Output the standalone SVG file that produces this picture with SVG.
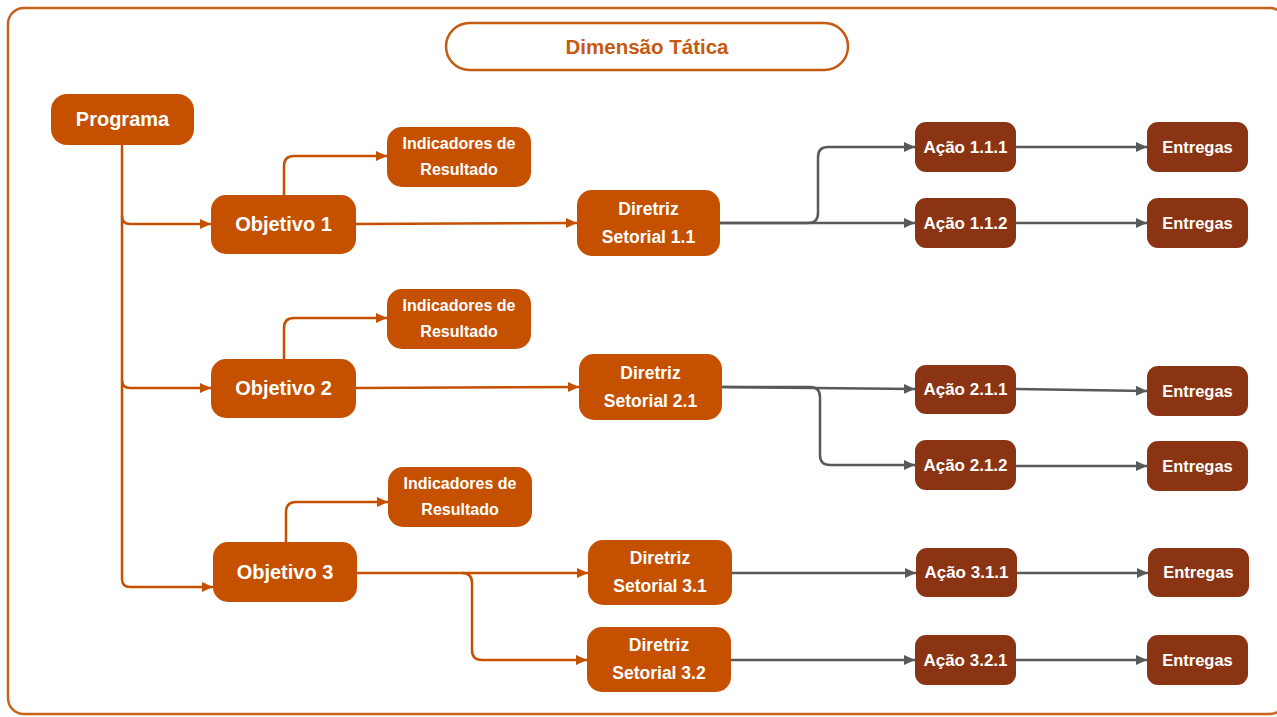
<svg xmlns="http://www.w3.org/2000/svg" width="1277" height="717" viewBox="0 0 1277 717">
<defs>
<style>
.o{fill:#C55000}
.d{fill:#8A3414}
.t{font-family:"Liberation Sans",Arial,sans-serif;font-weight:bold;fill:#fff;text-anchor:middle;dominant-baseline:central}
.co{fill:none;stroke:#C55000;stroke-width:2.5;marker-end:url(#ao)}
.cl{fill:none;stroke:#C55000;stroke-width:2.5}
.cg{fill:none;stroke:#595959;stroke-width:2.5;marker-end:url(#ag)}
</style>
<marker id="ao" markerUnits="userSpaceOnUse" markerWidth="12" markerHeight="11" refX="11" refY="5.5" orient="auto"><path d="M0,0.5 L11,5.5 L0,10.5 z" fill="#C55000"/></marker>
<marker id="ag" markerUnits="userSpaceOnUse" markerWidth="12" markerHeight="11" refX="11" refY="5.5" orient="auto"><path d="M0,0.5 L11,5.5 L0,10.5 z" fill="#595959"/></marker>
</defs>
<rect x="0" y="0" width="1277" height="717" fill="#fff"/>
<rect x="8" y="8" width="1278" height="706" rx="16" fill="none" stroke="#C8621C" stroke-width="2.5"/>
<g id="title">
<rect x="446" y="23" width="402" height="47" rx="23.5" fill="#fff" stroke="#C55A11" stroke-width="2.5"/>
<text x="647" y="46" style="font-family:'Liberation Sans',Arial,sans-serif;font-weight:bold;font-size:20.5px;fill:#C55A11;text-anchor:middle;dominant-baseline:central">Dimensão Tática</text>
</g>
<g id="connectors">
<path class="cl" d="M122,145 V579"/>
<path class="co" d="M122,216 Q122,224 130,224 H211"/>
<path class="co" d="M122,380 Q122,388 130,388 H211"/>
<path class="co" d="M122,579 Q122,587 130,587 H213"/>
<path class="co" d="M284,195 V166 Q284,156 294,156 H387"/>
<path class="co" d="M284,359 V328 Q284,318 294,318 H387"/>
<path class="co" d="M286,542 V512 Q286,502 296,502 H388"/>
<path class="co" d="M356,224 L577,223"/>
<path class="co" d="M356,388 L579,387"/>
<path class="co" d="M357,573 H588"/>
<path class="co" d="M462,573 Q472,573 472,583 V650 Q472,660 482,660 H587"/>
<path class="cg" d="M720,223 H808 Q818,223 818,213 V157 Q818,147 828,147 H915"/>
<path class="cg" d="M720,223 H915"/>
<path class="cg" d="M722,387 H810 Q820,387 820,397 V455 Q820,465 830,465 H915"/>
<path class="cg" d="M722,387 L915,389"/>
<path class="cg" d="M732,573 H916"/>
<path class="cg" d="M731,660 H915"/>
<path class="cg" d="M1016,147 H1147"/>
<path class="cg" d="M1016,223 H1147"/>
<path class="cg" d="M1016,389 L1147,391"/>
<path class="cg" d="M1016,466 H1147"/>
<path class="cg" d="M1017,573 H1148"/>
<path class="cg" d="M1016,660 H1147"/>
</g>
<g id="programa"><rect class="o" x="51" y="94" width="143" height="51" rx="16"/><text class="t" x="122.5" y="119" font-size="20">Programa</text></g>
<g id="objetivo1"><rect class="o" x="211" y="195" width="145" height="59" rx="15"/><text class="t" x="283.5" y="224" font-size="20">Objetivo 1</text></g>
<g id="objetivo2"><rect class="o" x="211" y="359" width="145" height="59" rx="15"/><text class="t" x="283.5" y="388" font-size="20">Objetivo 2</text></g>
<g id="objetivo3"><rect class="o" x="213" y="542" width="144" height="60" rx="15"/><text class="t" x="285" y="572" font-size="20">Objetivo 3</text></g>
<g id="indicadores1"><rect class="o" x="387" y="127" width="144" height="60" rx="15"/><text class="t" x="459" y="143" font-size="16">Indicadores de</text><text class="t" x="459" y="169" font-size="16">Resultado</text></g>
<g id="indicadores2"><rect class="o" x="387" y="289" width="144" height="60" rx="15"/><text class="t" x="459" y="305" font-size="16">Indicadores de</text><text class="t" x="459" y="331" font-size="16">Resultado</text></g>
<g id="indicadores3"><rect class="o" x="388" y="467" width="144" height="60" rx="15"/><text class="t" x="460" y="483" font-size="16">Indicadores de</text><text class="t" x="460" y="509" font-size="16">Resultado</text></g>
<g id="diretriz11"><rect class="o" x="577" y="190" width="143" height="66" rx="15"/><text class="t" x="648.5" y="209" font-size="17.5">Diretriz</text><text class="t" x="648.5" y="237" font-size="17.5">Setorial 1.1</text></g>
<g id="diretriz21"><rect class="o" x="579" y="354" width="143" height="66" rx="15"/><text class="t" x="650.5" y="373" font-size="17.5">Diretriz</text><text class="t" x="650.5" y="401" font-size="17.5">Setorial 2.1</text></g>
<g id="diretriz31"><rect class="o" x="588" y="540" width="144" height="65" rx="15"/><text class="t" x="660" y="558" font-size="17.5">Diretriz</text><text class="t" x="660" y="586" font-size="17.5">Setorial 3.1</text></g>
<g id="diretriz32"><rect class="o" x="587" y="627" width="144" height="65" rx="15"/><text class="t" x="659" y="645" font-size="17.5">Diretriz</text><text class="t" x="659" y="673" font-size="17.5">Setorial 3.2</text></g>
<g id="acao111"><rect class="d" x="915" y="122" width="101" height="50" rx="11"/><text class="t" x="965.5" y="147" font-size="17">Ação 1.1.1</text></g>
<g id="acao112"><rect class="d" x="915" y="198" width="101" height="50" rx="11"/><text class="t" x="965.5" y="223" font-size="17">Ação 1.1.2</text></g>
<g id="acao211"><rect class="d" x="915" y="365" width="101" height="49" rx="11"/><text class="t" x="965.5" y="389" font-size="17">Ação 2.1.1</text></g>
<g id="acao212"><rect class="d" x="915" y="440" width="101" height="50" rx="11"/><text class="t" x="965.5" y="465" font-size="17">Ação 2.1.2</text></g>
<g id="acao311"><rect class="d" x="916" y="548" width="101" height="49" rx="11"/><text class="t" x="966.5" y="572" font-size="17">Ação 3.1.1</text></g>
<g id="acao321"><rect class="d" x="915" y="635" width="101" height="50" rx="11"/><text class="t" x="965.5" y="660" font-size="17">Ação 3.2.1</text></g>
<g id="entregas1"><rect class="d" x="1147" y="122" width="101" height="50" rx="11"/><text class="t" x="1197.5" y="147" font-size="16.5">Entregas</text></g>
<g id="entregas2"><rect class="d" x="1147" y="198" width="101" height="50" rx="11"/><text class="t" x="1197.5" y="223" font-size="16.5">Entregas</text></g>
<g id="entregas3"><rect class="d" x="1147" y="366" width="101" height="50" rx="11"/><text class="t" x="1197.5" y="391" font-size="16.5">Entregas</text></g>
<g id="entregas4"><rect class="d" x="1147" y="441" width="101" height="50" rx="11"/><text class="t" x="1197.5" y="466" font-size="16.5">Entregas</text></g>
<g id="entregas5"><rect class="d" x="1148" y="548" width="101" height="49" rx="11"/><text class="t" x="1198.5" y="572" font-size="16.5">Entregas</text></g>
<g id="entregas6"><rect class="d" x="1147" y="635" width="101" height="50" rx="11"/><text class="t" x="1197.5" y="660" font-size="16.5">Entregas</text></g>
</svg>
